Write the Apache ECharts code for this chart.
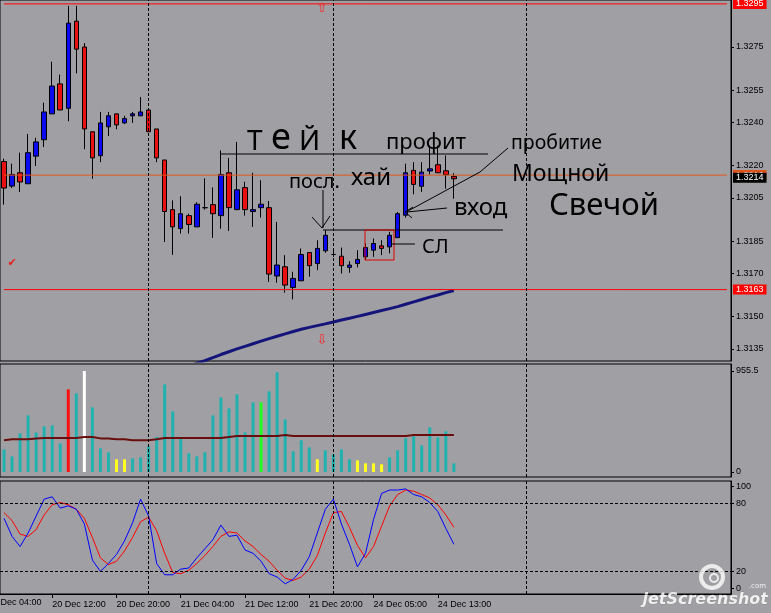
<!DOCTYPE html>
<html><head><meta charset="utf-8">
<script src="https://cdn.jsdelivr.net/npm/echarts@6/dist/echarts.min.js"></script>
<style>html,body{margin:0;padding:0;background:#a0a0a4;overflow:hidden}#c{width:771px;height:613px}</style>
</head><body><div id="c"></div>
<script>
// ---------- categories (hourly bars) ----------
const daySegments = [['20 Dec',6,23],['21 Dec',0,22],['24 Dec',0,23],['25 Dec',0,23],['26 Dec',0,1]];
const categories = [];
daySegments.forEach(([d,h0,h1]) => { for (let h=h0; h<=h1; h++) categories.push(d+' '+String(h).padStart(2,'0')+':00'); });
const firstTimeLabel = '20 Dec 04:00';   // partly scrolled off the left edge
const timeLabels = ['20 Dec 12:00','20 Dec 20:00','21 Dec 04:00','21 Dec 12:00','21 Dec 20:00','24 Dec 05:00','24 Dec 13:00'];
const dayBreaks = ['21 Dec 00:00','24 Dec 00:00','25 Dec 00:00'];

// ---------- price candles (first bar 20 Dec 06:00) ----------
const candleStart = '20 Dec 06:00';
const opens  = [1.32219,1.32105,1.32167,1.32116,1.32244,1.32320,1.32440,1.32579,1.32466,1.32870,1.32750,1.32357,1.32246,1.32380,1.32440,1.32398,1.32431,1.32431,1.32458,1.32370,1.32226,1.31996,1.31908,1.31968,1.31916,1.32005,1.32019,1.31968,1.32167,1.31996,1.32098,1.31987,1.32005,1.32005,1.31688,1.31731,1.31635,1.31666,1.31797,1.31746,1.31805,1.31788,1.31780,1.31728,1.31746,1.31777,1.31808,1.31828,1.31823,1.31866,1.31970,1.32178,1.32104,1.32175,1.32204,1.32176,1.32150];
const highs  = [1.32232,1.32209,1.32260,1.32347,1.32329,1.32492,1.32682,1.32622,1.32941,1.32941,1.32768,1.32357,1.32449,1.32449,1.32440,1.32431,1.32449,1.32518,1.32458,1.32370,1.32226,1.32039,1.32058,1.31977,1.32030,1.32141,1.32099,1.32270,1.32236,1.32310,1.32125,1.32167,1.32132,1.32036,1.31939,1.31785,1.31708,1.31816,1.31797,1.31854,1.31900,1.31816,1.31820,1.31757,1.31808,1.31839,1.31862,1.31854,1.31893,1.31985,1.32209,1.32216,1.32216,1.32293,1.32293,1.32247,1.32165];
const lows   = [1.32019,1.32096,1.32078,1.32116,1.32198,1.32286,1.32440,1.32458,1.32406,1.32628,1.32276,1.32139,1.32216,1.32337,1.32369,1.32394,1.32398,1.32431,1.32357,1.32216,1.31846,1.31786,1.31885,1.31885,1.31916,1.31996,1.31865,1.31907,1.31897,1.31996,1.31968,1.31916,1.31959,1.31661,1.31657,1.31611,1.31580,1.31666,1.31685,1.31715,1.31796,1.31777,1.31700,1.31703,1.31728,1.31762,1.31777,1.31785,1.31793,1.31866,1.31959,1.32067,1.32078,1.32159,1.32167,1.32093,1.32047];
const closes = [1.32096,1.32159,1.32124,1.32260,1.32310,1.32449,1.32569,1.32458,1.32861,1.32740,1.32370,1.32236,1.32398,1.32431,1.32389,1.32418,1.32440,1.32449,1.32357,1.32236,1.31987,1.31916,1.31977,1.31927,1.32021,1.32005,1.31977,1.32159,1.32005,1.32088,1.31996,1.31996,1.32021,1.31697,1.31739,1.31646,1.31677,1.31788,1.31736,1.31816,1.31877,1.31788,1.31736,1.31739,1.31765,1.31820,1.31839,1.31816,1.31877,1.31977,1.32167,1.32113,1.32170,1.32185,1.32167,1.32158,1.32139];

// long moving average on price (first point 21 Dec 04:00)
const maStart = '21 Dec 04:00';
const maValues = [1.31255,1.31270,1.31284,1.31296,1.31310,1.31324,1.31337,1.31350,1.31362,1.31374,1.31386,1.31398,1.31409,1.31420,1.31431,1.31441,1.31450,1.31458,1.31466,1.31475,1.31484,1.31492,1.31501,1.31510,1.31519,1.31528,1.31537,1.31546,1.31557,1.31568,1.31579,1.31590,1.31600,1.31611,1.31621];

// horizontal price levels (the last one is the bid label without a line)
const levelValues = [1.3295, 1.32156, 1.31625, 1.32144];
const levelTexts  = ['1.3295','1.3216','1.3163','1.3214'];
const priceTicks  = [1.3135,1.3150,1.3170,1.3185,1.3205,1.3220,1.3240,1.3255,1.3275];

// ---------- volume (first bar 20 Dec 06:00) ----------
const volumes = [214,148,366,536,375,432,442,271,782,744,955,612,224,186,120,120,129,139,243,331,829,574,319,177,148,186,536,706,602,735,375,659,659,763,943,498,196,300,233,120,205,167,214,120,110,82,82,73,139,205,319,338,252,423,328,385,82];
const volumeKinds = ['n','n','n','n','n','n','n','n','climaxHigh','n','climaxLow','n','n','n','low','low','n','n','n','n','n','n','n','n','n','n','n','n','n','n','n','n','churn','n','n','n','n','n','n','low','n','n','n','n','low','low','low','low','n','n','n','n','n','n','n','n','n'];
const lineStart = '20 Dec 06:00';
const volumeAvg = [300,309,309,309,318,322,322,322,322,322,331,331,318,318,309,309,300,300,300,309,322,322,322,322,322,322,322,322,331,341,341,341,341,341,341,350,341,341,341,341,341,341,341,341,341,341,341,341,341,341,341,350,350,350,350,350,350];
const volumeTicks = [0, 955.5];

// ---------- stochastic (first point 20 Dec 06:00) ----------
const stochK = [67,51,42,54,69,84,86,76,78,75,62,30,20,27,35,47,63,84,69,27,17,17,22,23,32,40,48,61,51,52,39,36,29,18,15,9,13,21,33,54,75,84,62,44,24,36,66,89,92,92,93,88,86,81,73,58,44];
const stochD = [72,65,53,51,57,70,79,81,79,75,67,50,32,26,29,38,50,64,68,56,36,19,18,21,27,34,42,51,55,54,47,42,35,29,21,14,12,15,22,34,54,72,73,59,43,32,42,60,78,88,92,91,88,85,79,70,59];
const stochLevels = [80, 20];
const stochTickValues = [5, 20, 80, 95];
const stochTickTexts = ['0', '20', '80', '100'];

// ---------- build ----------
const FONT = 'Liberation Sans';
const cStart = categories.indexOf(candleStart);
const candleRows = opens.map((o,k)=>[categories[cStart+k], o, closes[k], lows[k], highs[k]]);
const maStartIdx = categories.indexOf(maStart);
const maRows = maValues.map((v,k)=>[categories[maStartIdx+k], v]);
const lsIdx = categories.indexOf(lineStart);
const kindColor = {n:'#21b2b0', climaxHigh:'#ff1010', climaxLow:'#ffffff', low:'#ffff20', churn:'#20ff20'};
const volRows = volumes.map((v,k)=>({value:[categories[cStart+k], v], itemStyle:{color:kindColor[volumeKinds[k]]}}));
const volAvgRows = volumeAvg.map((v,k)=>[categories[lsIdx+k], v]);
const kRows = stochK.map((v,k)=>[categories[lsIdx+k], v]);
const dRows = stochD.map((v,k)=>[categories[lsIdx+k], v]);

const labelFn = (i, v) => timeLabels.includes(v);
const dash = {color:'#000', type:[3,2], width:1};
const breakLines = dayBreaks.map(d=>({xAxis:d, lineStyle:dash, label:{show:false}}));

function xAxisFor(g, showLabels) {
  return {
    type:'category', gridIndex:g, data:categories, boundaryGap:true,
    axisLine:{show:showLabels, lineStyle:{color:'#000'}},
    axisTick:{show:showLabels, interval:labelFn, alignWithLabel:true, length:4, lineStyle:{color:'#000'}},
    axisLabel:{show:showLabels, interval:labelFn, align:'left', margin:6, padding:[0,0,0,0], color:'#000', fontFamily:FONT, fontSize:9},
    splitLine:{show:false}
  };
}
function yAxisFor(g, min, max, ticks, fmt) {
  return {
    type:'value', gridIndex:g, position:'right', min, max,
    axisLine:{show:true, lineStyle:{color:'#000'}},
    axisTick:{show:true, customValues:ticks, length:3, lineStyle:{color:'#000'}},
    axisLabel:{customValues:ticks, formatter:fmt, margin:5, color:'#000', fontFamily:FONT, fontSize:9},
    splitLine:{show:false}
  };
}

// level lines drawn as plain line series across the chart; the price boxes are markLine labels
const levelColors = ['#ff0000','#e0541c','#ff0000','#000000'];
const lastCat = categories[categories.length-1];
const levelSeries = levelValues.map((v,k)=>({
  type:'line', xAxisIndex:0, yAxisIndex:0, z:3, silent:true, symbol:'none',
  data: k===3 ? [] : [[categories[0], v], [lastCat, v]],
  lineStyle:{color:levelColors[k], width:1, opacity:1},
  markLine:{symbol:'none', silent:true, animation:false, precision:5,
    lineStyle:{color:'rgba(0,0,0,0)', width:1, type:'solid'},
    label:{show:true, position:'end', distance:2, color:'#fff', fontFamily:FONT, fontSize:9, padding:[1,3,0,3], formatter:levelTexts[k], backgroundColor:levelColors[k]},
    data:[{yAxis:v}]}
}));

const hand = 'Noto Sans';
function txt(t, x, y, size, color) {
  return {type:'text', x, y, silent:true, z:100, style:{text:t, fill:color||'#000', font: size+'px "'+hand+'"', verticalAlign:'middle', align:'left'}};
}
function ln(pts, color, w) {
  return {type:'polyline', silent:true, z:100, shape:{points:pts}, style:{stroke:color||'#000', lineWidth:w||1, fill:null}};
}

const graphics = [
  {type:'text', x:-12, y:603, silent:true, style:{text:firstTimeLabel, fill:'#000', font:'9px "'+FONT+'"', verticalAlign:'middle', align:'left'}},
  // take-profit annotation
  ln([[221,154],[488,154]]),
  txt('Т', 247, 142, 28), txt('е', 271, 139, 36), txt('Й', 299, 142, 28), txt('к', 339, 139, 34),
  txt('профит', 386, 143, 22),
  // last high
  txt('посл.', 289, 182, 20), txt('хай', 351, 178, 24),
  ln([[323,190],[323,228]]), ln([[312,217],[322,228],[330,216]]),
  ln([[323,230],[503,230]]),
  // stop zone
  {type:'rect', silent:true, z:100, shape:{x:365, y:230, width:29, height:30}, style:{stroke:'#e00000', lineWidth:1, fill:null}},
  ln([[392,244],[415,244]]), txt('СЛ', 422, 247, 20),
  // entry
  ln([[407,212],[447,208]]), ln([[413,207],[405,212],[412,218]]), txt('вход', 454, 208, 24),
  ln([[408,211],[480,172],[508,148]]),
  txt('пробитие', 511, 143, 19.5), txt('Мощной', 512, 174, 23), txt('Свечой', 549, 206, 31),
  // MT4 objects
  {type:'text', x:322, y:9, silent:true, z:100, style:{text:'⇧', fill:'#ff2020', font:'13px "DejaVu Sans"', align:'center', verticalAlign:'middle'}},
  {type:'text', x:322, y:341, silent:true, z:100, style:{text:'⇩', fill:'#ff2020', font:'13px "DejaVu Sans"', align:'center', verticalAlign:'middle'}},
  {type:'text', x:12, y:263, silent:true, z:100, style:{text:'✔', fill:'#e82020', font:'11px "DejaVu Sans"', align:'center', verticalAlign:'middle'}},
  // watermark
  {type:'circle', silent:true, z:100, shape:{cx:712, cy:577, r:11}, style:{stroke:'rgba(255,255,255,0.8)', lineWidth:4, fill:null}},
  {type:'circle', silent:true, z:100, shape:{cx:714, cy:578, r:4}, style:{stroke:'rgba(255,255,255,0.8)', lineWidth:2, fill:null}},
  {type:'text', x:768, y:600, silent:true, z:100, style:{text:'jetScreenshot', fill:'rgba(255,255,255,0.85)', stroke:'#808080', lineWidth:0.5, font:'italic bold 16px "DejaVu Sans"', align:'right', verticalAlign:'middle'}},
  {type:'text', x:766, y:586, silent:true, z:100, style:{text:'.com', fill:'rgba(255,255,255,0.85)', font:'7px "DejaVu Sans"', align:'right', verticalAlign:'middle'}}
];

const chart = echarts.init(document.getElementById('c'), null, {renderer:'canvas'});
chart.setOption({
  animation:false,
  backgroundColor:'#a0a0a4',
  grid:[
    {left:0, right:40, top:-1, height:362, show:true, borderColor:'#000', borderWidth:1, backgroundColor:'transparent'},
    {left:0, right:40, top:364, height:113, show:true, borderColor:'#000', borderWidth:1, backgroundColor:'transparent'},
    {left:0, right:40, top:481, height:113, show:true, borderColor:'#000', borderWidth:1, backgroundColor:'transparent'}
  ],
  xAxis:[xAxisFor(0,false), xAxisFor(1,false), xAxisFor(2,true)],
  yAxis:[
    yAxisFor(0, 1.31294, 1.32968, priceTicks, v=>v.toFixed(4)),
    yAxisFor(1, -47.3, 1021.7, volumeTicks, v=> v===0 ? '0' : String(v)),
    yAxisFor(2, 0, 100, stochTickValues, v=> { const k = stochTickValues.indexOf(v); return k<0 ? '' : stochTickTexts[k]; })
  ],
  series:[
    {type:'line', xAxisIndex:0, yAxisIndex:0, data:maRows, symbol:'none', clip:true, lineStyle:{color:'#14147a', width:3}, z:1,
      markLine:{symbol:'none', silent:true, animation:false, data: breakLines}},
    {type:'candlestick', xAxisIndex:0, yAxisIndex:0, data:candleRows, encode:{x:0, y:[1,2,3,4]}, barWidth:5, z:2,
      itemStyle:{color:'#0a0af0', color0:'#e81010', borderColor:'#000', borderColor0:'#000', borderWidth:1}},
    {type:'bar', xAxisIndex:1, yAxisIndex:1, data:volRows, barWidth:3, z:1},
    {type:'line', xAxisIndex:1, yAxisIndex:1, data:volAvgRows, symbol:'none', lineStyle:{color:'#6a0d0d', width:2}, z:2,
      markLine:{symbol:'none', silent:true, animation:false, data:breakLines}},
    {type:'line', xAxisIndex:2, yAxisIndex:2, data:kRows, symbol:'none', lineStyle:{color:'#0000ff', width:1}, z:3,
      markLine:{symbol:'none', silent:true, animation:false, label:{show:false}, lineStyle:dash, data:stochLevels.map(v=>({yAxis:v})).concat(breakLines)}},
    {type:'line', xAxisIndex:2, yAxisIndex:2, data:dRows, symbol:'none', lineStyle:{color:'#ff0000', width:1}, z:2}
  ].concat(levelSeries),
  graphic: graphics
});
</script></body></html>
